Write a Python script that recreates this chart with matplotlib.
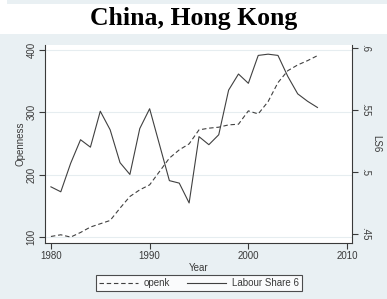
import matplotlib
matplotlib.use("Agg")
import matplotlib.pyplot as plt
from matplotlib.patches import Rectangle

# data
years = list(range(1980, 2008))
openk = [100.5, 103.2, 99.5, 106.9, 115.6, 120.9, 126.2, 146.0, 164.7, 175.4,
         183.4, 204.8, 226.3, 239.6, 249.2, 271.7, 274.4, 276.0, 279.7, 280.8,
         302.2, 297.3, 317.1, 347.6, 366.8, 376.0, 382.9, 390.9]
ls6 = [0.488, 0.484, 0.507, 0.526, 0.520, 0.549, 0.534, 0.5075, 0.498, 0.535,
       0.551, 0.522, 0.493, 0.491, 0.475, 0.5285, 0.522, 0.530, 0.566, 0.579,
       0.5715, 0.594, 0.595, 0.594, 0.577, 0.563, 0.557, 0.552]

left_ticks = [100, 200, 300, 400]
right_ticks = [0.45, 0.5, 0.55, 0.6]
right_labels = [".45", ".5", ".55", ".6"]
x_ticks = [1980, 1990, 2000, 2010]

plt.rcParams['font.family'] = ['Liberation Sans', 'DejaVu Sans']

bg = "#e9f0f3"
dark = "#3a3a3a"

fig = plt.figure(figsize=(3.87, 2.99), dpi=100, facecolor=bg)
W, H = 387, 299
# white title band
fig.patches.append(Rectangle((0, 1 - 34 / H), 1, 30 / H, transform=fig.transFigure,
                             facecolor="white", edgecolor="none", zorder=0))
fig.patches.append(Rectangle((0, 1 - 4 / H), 7 / W, 4 / H, transform=fig.transFigure,
                             facecolor="white", edgecolor="none", zorder=0))
fig.text(0.5, 1 - 18 / H, "China, Hong Kong", ha="center", va="center",
         family="Liberation Serif", weight="bold", fontsize=18.5)

ax = fig.add_axes([45 / W, 1 - 243 / H, 307 / W, 198 / H])
ax.set_facecolor("white")
ax.set_xlim(1979.4, 2010.5)
ax.set_ylim(90, 408)
ax.set_yticks(left_ticks)
ax.set_yticklabels([str(t) for t in left_ticks], rotation=90, va="center")
ax.set_xticks(x_ticks)
ax.grid(axis="y", color="#e6edf0", linewidth=0.8)
ax.set_axisbelow(True)
for s in ["top", "right"]:
    ax.spines[s].set_visible(False)
for s in ["left", "bottom"]:
    ax.spines[s].set_color(dark)
    ax.spines[s].set_linewidth(0.8)
ax.tick_params(colors=dark, labelsize=7, length=4, width=0.8, pad=2)
ax.set_xlabel("Year", fontsize=7, color=dark, labelpad=1)
ax.set_ylabel("Openness", fontsize=7, color=dark, labelpad=1)

l1, = ax.plot(years, openk, color="#404040", linewidth=0.8, linestyle=(0, (4, 2.5)),
              label="openk")

ax2 = ax.twinx()
ax2.set_ylim(0.4427, 0.6024)
ax2.set_yticks(right_ticks)
ax2.set_yticklabels(right_labels, rotation=-90, va="center")
for s in ["top", "left", "bottom"]:
    ax2.spines[s].set_visible(False)
ax2.spines["right"].set_color(dark)
ax2.spines["right"].set_linewidth(0.8)
ax2.tick_params(colors=dark, labelsize=7, length=4, width=0.8, pad=2)
ax2.set_ylabel("LS6", fontsize=7, color=dark, rotation=-90, labelpad=8)

l2, = ax2.plot(years, ls6, color="#404040", linewidth=0.8, label="Labour Share 6")

leg = fig.legend(handles=[l1, l2], loc="center", bbox_to_anchor=(199 / W, 1 - 283 / H),
                 ncol=2, fontsize=7, frameon=True, fancybox=False, handlelength=4.0,
                 columnspacing=1.7, borderpad=0.35, handletextpad=0.6, borderaxespad=0)
leg.get_frame().set_edgecolor("#222222")
leg.get_frame().set_linewidth(0.8)
for t in leg.get_texts():
    t.set_color(dark)

fig.savefig("out.png", dpi=100, facecolor=bg)
